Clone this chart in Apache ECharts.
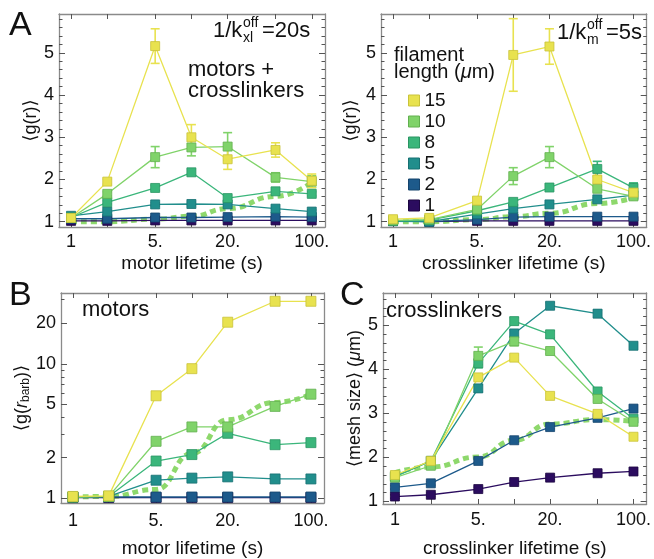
<!DOCTYPE html>
<html><head><meta charset="utf-8">
<script src="https://cdn.jsdelivr.net/npm/echarts@6/dist/echarts.min.js"></script>
<style>html,body{margin:0;padding:0;background:#fff}#c{width:654px;height:559px}</style>
</head><body><div id="c"></div>
<script>
// 四个面板:寿命(对数横轴)对 <g(r)> / <g(r_barb)> / mesh size
const FONT = '"Liberation Sans", Arial, "DejaVu Sans", sans-serif'
const FRAME = '#8a8a8a', TICK = '#555'

const lifetimes  = [1, 2, 5, 10, 20, 50, 100]
const xTickVals  = [1, 2, 5, 10, 20, 50, 100]
const xLabelVals = [1, 5, 20, 100]
const xLabelText = ['1', '5.', '20.', '100.']

const lengths    = ['15', '10', '8', '5', '2', '1']
const colors     = ['#e8e24f', '#80d36a', '#3bb67b', '#218e8c', '#1d5a8b', '#2b0c5f']
const edgeColors = ['#c9c33a', '#62b04f', '#2a9563', '#177072', '#15446d', '#1c0640']
const dotColor   = '#8ed86c'

// A 左:motor lifetime,1/k_xl = 20s
const gMotor15 = [1.09, 1.95, 5.16, 3.00, 2.48, 2.70, 1.97]
const gMotor10 = [1.09, 1.66, 2.53, 2.76, 2.78, 2.05, 1.95]
const gMotor8  = [1.10, 1.46, 1.80, 2.17, 1.56, 1.72, 1.66]
const gMotor5  = [1.14, 1.24, 1.41, 1.42, 1.41, 1.31, 1.24]
const gMotor2  = [1.07, 1.07, 1.10, 1.10, 1.11, 1.12, 1.11]
const gMotor1  = [1.02, 1.02, 1.03, 1.03, 1.03, 1.03, 1.03]
const gMotorErr15 = [0.05, 0.06, 0.41, 0.30, 0.24, 0.17, 0.16]
const gMotorErr10 = [0.03, 0.05, 0.25, 0.20, 0.33, 0.11, 0.14]
const gMotorErr8  = [0.03, 0.04, 0.06, 0.07, 0.06, 0.06, 0.05]
const gMotorErr5  = [0.03, 0.03, 0.04, 0.04, 0.04, 0.04, 0.04]
const gMotorErr2  = [0.02, 0.02, 0.02, 0.02, 0.02, 0.02, 0.02]
const gMotorErr1  = [0.02, 0.02, 0.02, 0.02, 0.02, 0.02, 0.02]
const gMotorDots  = [1.00, 1.00, 1.06, 1.13, 1.31, 1.60, 1.93]

// A 右:crosslinker lifetime,1/k_m = 5s
const gXl15 = [1.06, 1.09, 1.50, 4.95, 5.15, 2.00, 1.69]
const gXl10 = [1.03, 1.05, 1.29, 2.08, 2.53, 1.78, 1.60]
const gXl8  = [1.02, 1.04, 1.26, 1.47, 1.81, 2.25, 1.80]
const gXl5  = [1.01, 1.00, 1.18, 1.31, 1.41, 1.53, 1.63]
const gXl2  = [1.02, 1.00, 1.05, 1.11, 1.12, 1.12, 1.12]
const gXl1  = [1.02, 1.00, 1.02, 1.02, 1.02, 1.02, 1.02]
const gXlErr15 = [0.04, 0.05, 0.07, 0.86, 0.42, 0.07, 0.08]
const gXlErr10 = [0.02, 0.02, 0.05, 0.20, 0.25, 0.06, 0.05]
const gXlErr8  = [0.02, 0.02, 0.04, 0.06, 0.06, 0.18, 0.12]
const gXlErr5  = [0.02, 0.02, 0.03, 0.03, 0.03, 0.04, 0.04]
const gXlErr2  = [0.02, 0.02, 0.02, 0.02, 0.02, 0.02, 0.02]
const gXlErr1  = [0.02, 0.02, 0.02, 0.02, 0.02, 0.02, 0.02]
const gXlDots  = [1.00, 1.00, 1.05, 1.12, 1.20, 1.43, 1.57]

// B:motors,<g(r_barb)>,对数纵轴
const gBarb15 = [1.03, 1.04, 5.78, 9.2, 20.4, 29.2, 29.2]
const gBarb10 = [1.02, 1.03, 2.65, 3.39, 3.39, 4.82, 5.94]
const gBarb8  = [1.02, 1.03, 1.89, 2.11, 3.04, 2.50, 2.59]
const gBarb5  = [1.02, 1.03, 1.36, 1.41, 1.44, 1.39, 1.39]
const gBarb2  = [1.02, 1.02, 1.02, 1.02, 1.02, 1.02, 1.02]
const gBarb1  = [1.01, 1.01, 1.01, 1.01, 1.01, 1.01, 1.01]
const gBarbDots = [1.02, 1.03, 1.16, 2.15, 3.84, 5.15, 5.94]

// C:crosslinkers,<mesh size> (μm)
const mesh15 = [1.60, 1.92, 3.82, 4.27, 3.40, 2.99, 2.47]
const mesh10 = [1.54, 1.81, 4.31, 4.64, 4.42, 3.33, 2.81]
const mesh8  = [1.56, 1.92, 4.14, 5.10, 4.80, 3.50, 2.88]
const mesh5  = [1.57, 1.92, 3.57, 4.82, 5.45, 5.27, 4.54]
const mesh2  = [1.32, 1.41, 1.92, 2.39, 2.69, 2.90, 3.11]
const mesh1  = [1.11, 1.15, 1.28, 1.44, 1.54, 1.64, 1.68]
const meshErr15 = [0.06, 0.05, 0.06, 0.06, 0.06, 0.05, 0.05]
const meshErr10 = [0.05, 0.05, 0.20, 0.10, 0.06, 0.05, 0.05]
const meshErr8  = [0.05, 0.05, 0.10, 0.08, 0.08, 0.07, 0.05]
const meshErr5  = [0.04, 0.05, 0.08, 0.07, 0.07, 0.08, 0.05]
const meshErr2  = [0.04, 0.04, 0.04, 0.04, 0.04, 0.04, 0.04]
const meshErr1  = [0.04, 0.04, 0.04, 0.04, 0.04, 0.04, 0.04]
const meshDots  = [1.65, 1.78, 2.01, 2.39, 2.76, 2.86, 2.82]

const yTicksLin  = [1, 2, 3, 4, 5]
const yTicksLog  = [1, 2, 5, 10, 20]
const yMinorLog  = [3, 4, 6, 7, 8, 9, 30]

function minorLin(lo, hi){ const a=[]; for(let k=Math.ceil(lo*5);k<=hi*5;k++){ if(k%5) a.push(k/5) } return a }

const panels = [
  { grid:{left:59, top:14, width:266, height:213}, rows:[gMotor15,gMotor10,gMotor8,gMotor5,gMotor2,gMotor1],
    errs:[gMotorErr15,gMotorErr10,gMotorErr8,gMotorErr5,gMotorErr2,gMotorErr1], dots:gMotorDots,
    yMin:0.875, yMax:5.92, xName:'motor lifetime (s)', xGap:27, xMargin:6,
    yName:'⟨g(r)⟩', yGap:19 },
  { grid:{left:381, top:14, width:266, height:213}, rows:[gXl15,gXl10,gXl8,gXl5,gXl2,gXl1],
    errs:[gXlErr15,gXlErr10,gXlErr8,gXlErr5,gXlErr2,gXlErr1], dots:gXlDots,
    yMin:0.875, yMax:5.92, xName:'crosslinker lifetime (s)', xGap:27, xMargin:6,
    yName:'⟨g(r)⟩', yGap:21 },
  { grid:{left:61, top:293, width:263, height:211}, rows:[gBarb15,gBarb10,gBarb8,gBarb5,gBarb2,gBarb1],
    errs:null, dots:gBarbDots, logY:true,
    yMin:-0.036, yMax:1.527, xName:'motor lifetime (s)', xGap:36, xMargin:9,
    yName:'⟨g({i|r}{sub|barb})⟩', yGap:27 },
  { grid:{left:383, top:293, width:266, height:213}, rows:[mesh15,mesh10,mesh8,mesh5,mesh2,mesh1],
    errs:[meshErr15,meshErr10,meshErr8,meshErr5,meshErr2,meshErr1], dots:meshDots,
    yMin:0.94, yMax:5.74, xName:'crosslinker lifetime (s)', xGap:35, xMargin:7,
    yName:'⟨mesh size⟩ ({i|μ}m)', yGap:9 },
]

const lx = Math.log10
const grids = [], xAxis = [], yAxis = [], lineSeries = [], errSeries = []
const hiddenLine = {show:true, onZero:false, lineStyle:{color:'#fff', opacity:0, width:0}}

panels.forEach((p, gi) => {
  grids.push(p.grid)
  const T = p.logY ? lx : (v => v)
  const xBase = { gridIndex:gi, type:'value', min:-0.1, max:2.11, splitLine:{show:false}, offset:0,
    axisLine:{show:true, onZero:false, lineStyle:{color:FRAME, width:1.3}},
    axisTick:{inside:true, length:5, customValues:xTickVals.map(lx), lineStyle:{color:TICK}} }
  xAxis.push({ ...xBase, position:'bottom', name:p.xName, nameLocation:'middle', nameGap:p.xGap,
    nameTextStyle:{fontFamily:FONT, fontSize:19, color:'#111'},
    axisLabel:{margin:p.xMargin, customValues:xLabelVals.map(lx), fontFamily:FONT, fontSize:18, color:'#111',
      formatter:v => xLabelText[xLabelVals.indexOf(Math.round(Math.pow(10, v)))]} })
  xAxis.push({ ...xBase, position:'top', axisLabel:{show:false} })

  const major = (p.logY ? yTicksLog : yTicksLin).map(T)
  const minor = p.logY ? yMinorLog.map(T) : minorLin(p.yMin, p.yMax)
  const yBase = { gridIndex:gi, type:'value', min:p.yMin, max:p.yMax, splitLine:{show:false}, offset:0 }
  const sub = {fontSize:12, padding:[9,0,0,0], fontFamily:FONT, color:'#111'}
  yAxis.push({ ...yBase, position:'left', name:p.yName, nameLocation:'middle', nameGap:p.yGap,
    nameTextStyle:{fontFamily:FONT, fontSize:18, color:'#111',
      rich:{ i:{fontStyle:'italic', fontSize:18, fontFamily:FONT, color:'#111'}, sub }},
    axisLine:{show:true, onZero:false, lineStyle:{color:FRAME, width:1.3}},
    axisTick:{inside:true, length:6, customValues:major, lineStyle:{color:TICK}},
    axisLabel:{margin:5, customValues:major, fontFamily:FONT, fontSize:18, color:'#111',
      formatter:v => String(Math.round(p.logY ? Math.pow(10, v) : v))} })
  yAxis.push({ ...yBase, position:'left', axisLine:hiddenLine, axisLabel:{show:false},
    axisTick:{show:true, inside:true, length:3.5, customValues:minor, lineStyle:{color:TICK, width:1}} })
  yAxis.push({ ...yBase, position:'right', axisLabel:{show:false},
    axisLine:{show:true, onZero:false, lineStyle:{color:FRAME, width:1.3}},
    axisTick:{inside:true, length:6, customValues:major, lineStyle:{color:TICK}} })
  yAxis.push({ ...yBase, position:'right', axisLine:hiddenLine, axisLabel:{show:false},
    axisTick:{show:true, inside:true, length:3.5, customValues:minor, lineStyle:{color:TICK, width:1}} })

  const xi = gi*2, yi = gi*4
  const pts = vals => lifetimes.map((t, k) => [lx(t), T(vals[k])])
  // 从 1μm 画到 15μm,黄色在最上
  for (let i = lengths.length - 1; i >= 0; i--) {
    if (i === 2) lineSeries.push({ type:'line', name:'dots'+gi, xAxisIndex:xi, yAxisIndex:yi, data:pts(p.dots),
      smooth:0.5, smoothMonotone:'x', showSymbol:false, silent:true, z:3,
      lineStyle:{color:dotColor, width:5, type:[6,4], cap:'butt'} })
    lineSeries.push({ type:'line', name:lengths[i], xAxisIndex:xi, yAxisIndex:yi, data:pts(p.rows[i]),
      symbol:'rect', symbolSize: p.logY ? 10 : 9, z:4, animation:false,
      lineStyle:{color:colors[i], width:1.3},
      itemStyle:{color:colors[i], borderColor:edgeColors[i], borderWidth:0.8} })
    if (p.errs) errSeries.push({ type:'custom', name:'err'+gi+'_'+i, xAxisIndex:xi, yAxisIndex:yi, z:4, silent:true,
      data: lifetimes.map((t, k) => [lx(t), p.rows[i][k]-p.errs[i][k], p.rows[i][k]+p.errs[i][k]]),
      renderItem(params, api){
        const lo = api.coord([api.value(0), api.value(1)]), hi = api.coord([api.value(0), api.value(2)])
        const w = 4.5, st = {stroke:colors[i], lineWidth:1.6}
        return { type:'group', children:[
          {type:'line', shape:{x1:lo[0], y1:lo[1], x2:hi[0], y2:hi[1]}, style:st},
          {type:'line', shape:{x1:lo[0]-w, y1:lo[1], x2:lo[0]+w, y2:lo[1]}, style:st},
          {type:'line', shape:{x1:hi[0]-w, y1:hi[1], x2:hi[0]+w, y2:hi[1]}, style:st} ]}
      } })
  }
})

const txt = (x, y, text, size, extra) => ({ type:'text', x, y, silent:true,
  style:Object.assign({ text, fill:'#111', font:size+'px '+FONT, verticalAlign:'middle' }, extra||{}) })

// 1/k 上下标:off 在上,xl / m 在下
function rateLabel(x, y, low, rest){
  return [ txt(x, y, '1/k', 22), txt(x+30, y-8, 'off', 14), txt(x+30, y+7, low, 14), txt(x+49, y, rest, 22) ]
}

const graphic = [
  txt(9, 26, 'A', 34), txt(9, 296, 'B', 34), txt(340, 296, 'C', 34),
  ...rateLabel(213, 31, 'xl', '=20s'),
  txt(188, 70, 'motors +', 22), txt(188, 91, 'crosslinkers', 22),
  ...rateLabel(557, 33, 'm', '=5s'),
  txt(394, 55, 'filament', 20),
  { type:'text', x:394, y:72, silent:true, style:{ text:'length ({i|μ}m)', fill:'#111', font:'20px '+FONT,
      verticalAlign:'middle', rich:{ i:{fontStyle:'italic', fontSize:20, fontFamily:FONT, fill:'#111'} } } },
  txt(82, 310, 'motors', 22),
  txt(386, 311, 'crosslinkers', 22),
]

const chart = echarts.init(document.getElementById('c'), null, {renderer:'canvas'})
chart.setOption({
  animation:false, backgroundColor:'#fff',
  grid:grids, xAxis, yAxis,
  legend:{ orient:'vertical', left:403, top:86, icon:'rect', itemWidth:11, itemHeight:11, itemGap:2,
    textStyle:{fontFamily:FONT, fontSize:19, color:'#111', lineHeight:17},
    selectedMode:false,
    data:lengths.map((n, i) => ({ name:n, itemStyle:{color:colors[i], borderColor:edgeColors[i], borderWidth:1} })) },
  series:[...lineSeries, ...errSeries],
  graphic
})
</script>
</body></html>
